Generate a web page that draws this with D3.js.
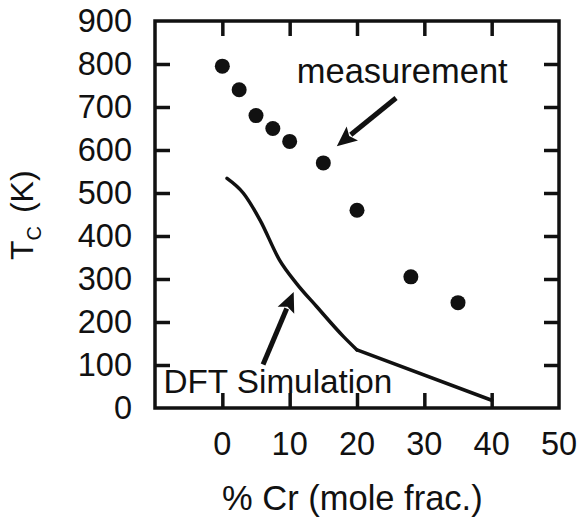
<!DOCTYPE html>
<html>
<head>
<meta charset="utf-8">
<script src="https://cdn.jsdelivr.net/npm/d3@7"></script>
<style>
  html, body { margin: 0; padding: 0; background: #fff; }
  svg { display: block; }
  text { font-family: "Liberation Sans", Arial, Helvetica, sans-serif; fill: #111; }
</style>
</head>
<body>
<svg id="chart" width="579" height="522"></svg>
<script>
// ---- data ----
const measX = [0, 2.5, 5, 7.5, 10, 15, 20, 28, 35];
const measY = [795, 740, 680, 650, 620, 570, 460, 305, 245];

const dftX = [0.7, 3.1, 5.6, 8.5, 11, 14, 18, 20, 40];
const dftY = [534, 500, 437, 344, 290, 236, 166, 135, 18];

const xTicks = [0, 10, 20, 30, 40, 50];
const yTicks = [0, 100, 200, 300, 400, 500, 600, 700, 800, 900];

const xTitle = "% Cr (mole frac.)";
const measLabel = "measurement";
const dftLabel = "DFT Simulation";

// annotation anchors in data units
const measArrow = { from: [25.8, 721], to: [17.0, 609] };
const dftArrow = { from: [6.05, 101], to: [10.6, 270] };
const measLabelPos = [11.05, 755];
const dftLabelPos = [-8.75, 35];

// ---- layout ----
const svg = d3.select("#chart");
const mLeft = 155, mRight = 559, mTop = 21, mBottom = 408;

const x = d3.scaleLinear().domain([-10, 50]).range([mLeft, mRight]);
const y = d3.scaleLinear().domain([0, 900]).range([mBottom, mTop]);

const tickLen = 15;
const strokeW = 3.5;

const xTickVals = xTicks.filter(v => v > -10 && v < 50);
const yTickVals = yTicks.filter(v => v > 0 && v < 900);

function styleTicks(g) {
  g.select(".domain").remove();
  g.selectAll("line").attr("stroke", "#111").attr("stroke-width", strokeW);
}

svg.append("g").attr("transform", `translate(0,${mBottom})`)
  .call(d3.axisBottom(x).tickValues(xTickVals).tickSize(-tickLen).tickFormat(""))
  .call(styleTicks);
svg.append("g").attr("transform", `translate(0,${mTop})`)
  .call(d3.axisTop(x).tickValues(xTickVals).tickSize(-tickLen).tickFormat(""))
  .call(styleTicks);
svg.append("g").attr("transform", `translate(${mLeft},0)`)
  .call(d3.axisLeft(y).tickValues(yTickVals).tickSize(-tickLen).tickFormat(""))
  .call(styleTicks);
svg.append("g").attr("transform", `translate(${mRight},0)`)
  .call(d3.axisRight(y).tickValues(yTickVals).tickSize(-tickLen).tickFormat(""))
  .call(styleTicks);

// frame
svg.append("rect")
  .attr("x", mLeft).attr("y", mTop)
  .attr("width", mRight - mLeft).attr("height", mBottom - mTop)
  .attr("fill", "none").attr("stroke", "#111").attr("stroke-width", strokeW);

// tick labels
svg.append("g").selectAll("text").data(xTicks).join("text")
  .attr("x", d => x(d)).attr("y", 455)
  .attr("text-anchor", "middle")
  .attr("font-size", 32.5)
  .text(d => d);

svg.append("g").selectAll("text").data(yTicks).join("text")
  .attr("x", 132).attr("y", d => y(d) + 11)
  .attr("text-anchor", "end")
  .attr("font-size", 32.5)
  .text(d => d);

// axis titles
svg.append("text")
  .attr("x", 222).attr("y", 510)
  .attr("font-size", 34.5)
  .text(xTitle);

const yt = svg.append("text")
  .attr("transform", "translate(33,260) rotate(-90)")
  .attr("font-size", 32);
yt.append("tspan").text("T");
yt.append("tspan").attr("font-size", 20).attr("dy", 8).text("C");
yt.append("tspan").attr("dy", -8).attr("dx", 4).text(" (K)");

// DFT line: smooth up to x=20, straight beyond
const dft = dftX.map((v, i) => [v, dftY[i]]);
const kink = 20;
const lineSmooth = d3.line().x(d => x(d[0])).y(d => y(d[1])).curve(d3.curveMonotoneX);
const lineStraight = d3.line().x(d => x(d[0])).y(d => y(d[1]));
const dftPath = svg.append("g")
  .attr("fill", "none")
  .attr("stroke", "#111")
  .attr("stroke-width", 3.5)
  .attr("stroke-linejoin", "round")
  .attr("stroke-linecap", "round");
dftPath.append("path").attr("d", lineSmooth(dft.filter(d => d[0] <= kink)));
dftPath.append("path").attr("d", lineStraight(dft.filter(d => d[0] >= kink)));

// measurement dots
const meas = measX.map((v, i) => [v, measY[i]]);
svg.append("g").selectAll("circle").data(meas).join("circle")
  .attr("cx", d => x(d[0])).attr("cy", d => y(d[1]))
  .attr("r", 7.5).attr("fill", "#111");

// arrows
function arrow(a) {
  const x1 = x(a.from[0]), y1 = y(a.from[1]);
  const x2 = x(a.to[0]), y2 = y(a.to[1]);
  const dx = x2 - x1, dy = y2 - y1, L = Math.hypot(dx, dy);
  const ux = dx / L, uy = dy / L, px = -uy, py = ux;
  const hl = 20, hw = 9;
  const bx = x2 - ux * hl, by = y2 - uy * hl;
  svg.append("line")
    .attr("x1", x1).attr("y1", y1).attr("x2", bx + ux * 2).attr("y2", by + uy * 2)
    .attr("stroke", "#111").attr("stroke-width", 5);
  svg.append("path")
    .attr("d", `M${x2},${y2}L${bx + px * hw},${by + py * hw}L${bx + ux * 4},${by + uy * 4}L${bx - px * hw},${by - py * hw}Z`)
    .attr("fill", "#111");
}
arrow(measArrow);
arrow(dftArrow);

// annotation labels
svg.append("text")
  .attr("x", x(measLabelPos[0])).attr("y", y(measLabelPos[1]))
  .attr("font-size", 34.5)
  .text(measLabel);
svg.append("text")
  .attr("x", x(dftLabelPos[0])).attr("y", y(dftLabelPos[1]))
  .attr("font-size", 33.3)
  .text(dftLabel);
</script>
</body>
</html>
